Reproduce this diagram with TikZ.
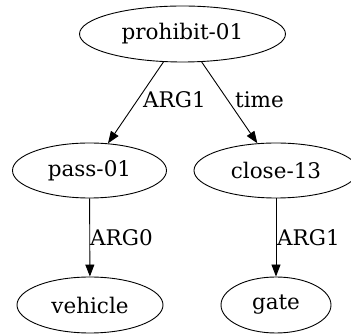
\documentclass[tikz,border=0pt]{standalone}
\usepackage{fontspec}
\setmainfont{DejaVu Serif}
\usetikzlibrary{shapes.geometric,arrows.meta}
\begin{document}
\begin{tikzpicture}[x=1pt,y=1pt,
  nd/.style={draw,ellipse,inner sep=0pt,line width=0.9pt,font=\fontsize{21.5}{24}\selectfont},
  edge/.style={draw,line width=0.9pt,-{Triangle[length=12pt,width=9pt]}},
  lbl/.style={inner sep=0pt,anchor=west,font=\fontsize{21.5}{24}\selectfont}]
\useasboundingbox (0,0) rectangle (351,334);
\node[nd,minimum width=206pt,minimum height=56pt] (p) at (182.5,300) {prohibit-01};
\node[nd,minimum width=154pt,minimum height=55pt] (pa) at (89.5,163.5) {pass-01};
\node[nd,minimum width=164pt,minimum height=55pt] (c) at (276,163.5) {close-13};
\node[nd,minimum width=146pt,minimum height=56pt] (v) at (90,29) {vehicle};
\node[nd,minimum width=110pt,minimum height=56pt] (g) at (276,29) {gate};
\draw[edge] (p) -- (pa);
\draw[edge] (p) -- (c);
\draw[edge] (pa) -- (v);
\draw[edge] (c) -- (g);
\node[lbl] (l1) at (143,234) {ARG1};
\node[lbl] (l2) at (235,234) {time};
\node[lbl] (l3) at (90,96) {ARG0};
\node[lbl] (l4) at (277,96) {ARG1};
\end{tikzpicture}
\end{document}
